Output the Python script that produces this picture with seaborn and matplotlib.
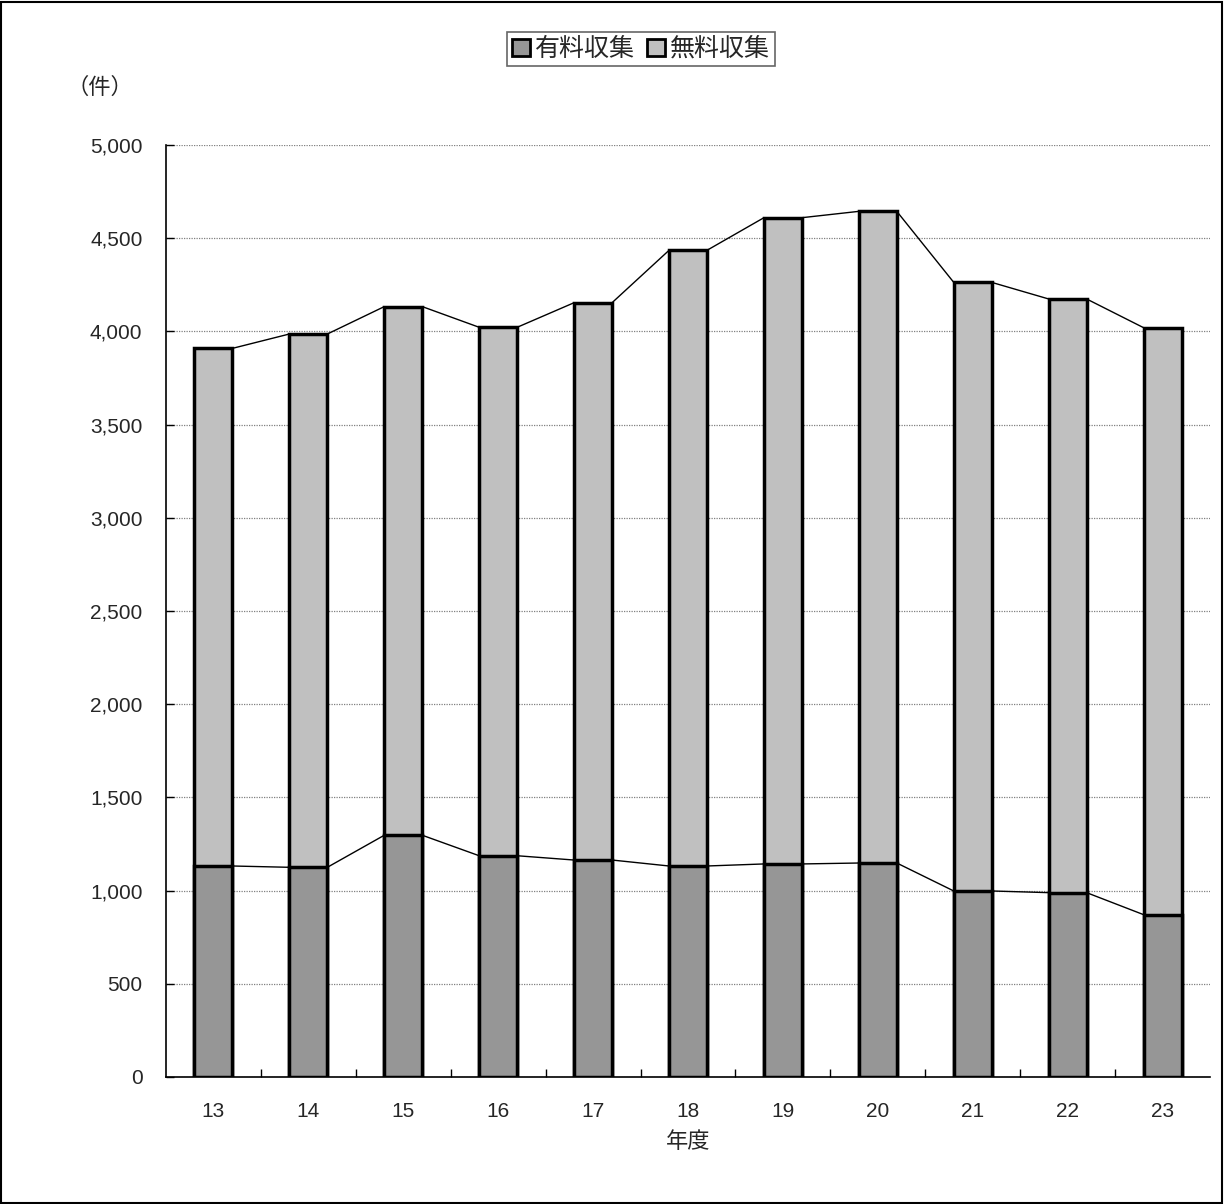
import matplotlib
matplotlib.use("Agg")
import matplotlib.pyplot as plt
import seaborn as sns
import pandas as pd
import numpy as np
from matplotlib.patches import Patch, Rectangle

years = ["13", "14", "15", "16", "17", "18", "19", "20", "21", "22", "23"]
paid = [1132, 1125, 1297, 1187, 1164, 1132, 1143, 1148, 998, 989, 871]
total = [3909, 3986, 4133, 4022, 4154, 4435, 4610, 4644, 4263, 4174, 4020]
free = [t - p for t, p in zip(total, paid)]
yticks = [0, 500, 1000, 1500, 2000, 2500, 3000, 3500, 4000, 4500, 5000]

sns.set_theme(style="white")
plt.rcParams['font.family'] = ['Liberation Sans', 'Noto Sans CJK JP']

df = pd.DataFrame({"year": years, "paid": paid, "total": total, "free": free})

fig = plt.figure(figsize=(12.24, 12.04), dpi=100)
ax = fig.add_axes([166/1224, 1-1077/1204, (1210-166)/1224, (1077-145)/1204])

c_paid = "#969696"
c_free = "#c0c0c0"
w = 0.4
sns.barplot(data=df, x="year", y="total", color=c_free, width=w,
            edgecolor="black", linewidth=2.5, saturation=1, ax=ax, zorder=3)
sns.barplot(data=df, x="year", y="paid", color=c_paid, width=w,
            edgecolor="black", linewidth=2.5, saturation=1, ax=ax, zorder=3)

# series lines connecting bar tops (Excel style)
n = len(years)
for series in (paid, total):
    for i in range(n - 1):
        ax.plot([i + w/2, i + 1 - w/2], [series[i], series[i + 1]],
                color="black", lw=1, zorder=2)

ax.set_xlim(-0.5, n - 0.5)
ax.set_ylim(0, 5000)
ax.set_yticks(yticks)
ax.set_yticklabels([f"{v:,}" for v in yticks], fontsize=15)
ax.yaxis.grid(True, color="#808080", linestyle=(0, (1, 1)), lw=0.9, zorder=0)
ax.set_axisbelow(True)
ax.set_xticks(range(n))
ax.set_xticklabels(years, fontsize=15)
ax.set_xticks(np.arange(n - 1) + 0.5, minor=True)
ax.tick_params(axis="x", which="major", length=0, pad=18)
ax.tick_params(axis="x", which="minor", direction="in", length=6, width=1, color="black", bottom=True)
ax.tick_params(axis="y", which="major", direction="in", length=6, width=1, color="black", left=True, pad=17)
ax.set_xlabel("年度", fontsize=16, labelpad=8)
ax.set_ylabel("")
for s in ("top", "right"):
    ax.spines[s].set_visible(False)
for s in ("left", "bottom"):
    ax.spines[s].set_color("black")
    ax.spines[s].set_linewidth(1.2)

fig.text(100/1224, 1-88/1204, "（件）", fontsize=16, ha="center", va="center")

handles = [Patch(facecolor=c_paid, edgecolor="black", linewidth=2, label="有料収集"),
           Patch(facecolor=c_free, edgecolor="black", linewidth=2, label="無料収集")]
leg = fig.legend(handles=handles, loc="center", bbox_to_anchor=(641/1224, 1-49/1204),
                 ncol=2, fontsize=18, frameon=True, fancybox=False, edgecolor="#404040",
                 handlelength=0.7, handleheight=0.7, handletextpad=0.2, columnspacing=0.5,
                 borderpad=0.2, borderaxespad=0)
leg.get_frame().set_linewidth(1.2)

fig.patches.append(Rectangle((0.001, 0.001), 0.997, 0.997, transform=fig.transFigure,
                             fill=False, edgecolor="black", lw=1.5))

fig.savefig("out.png", dpi=100)
